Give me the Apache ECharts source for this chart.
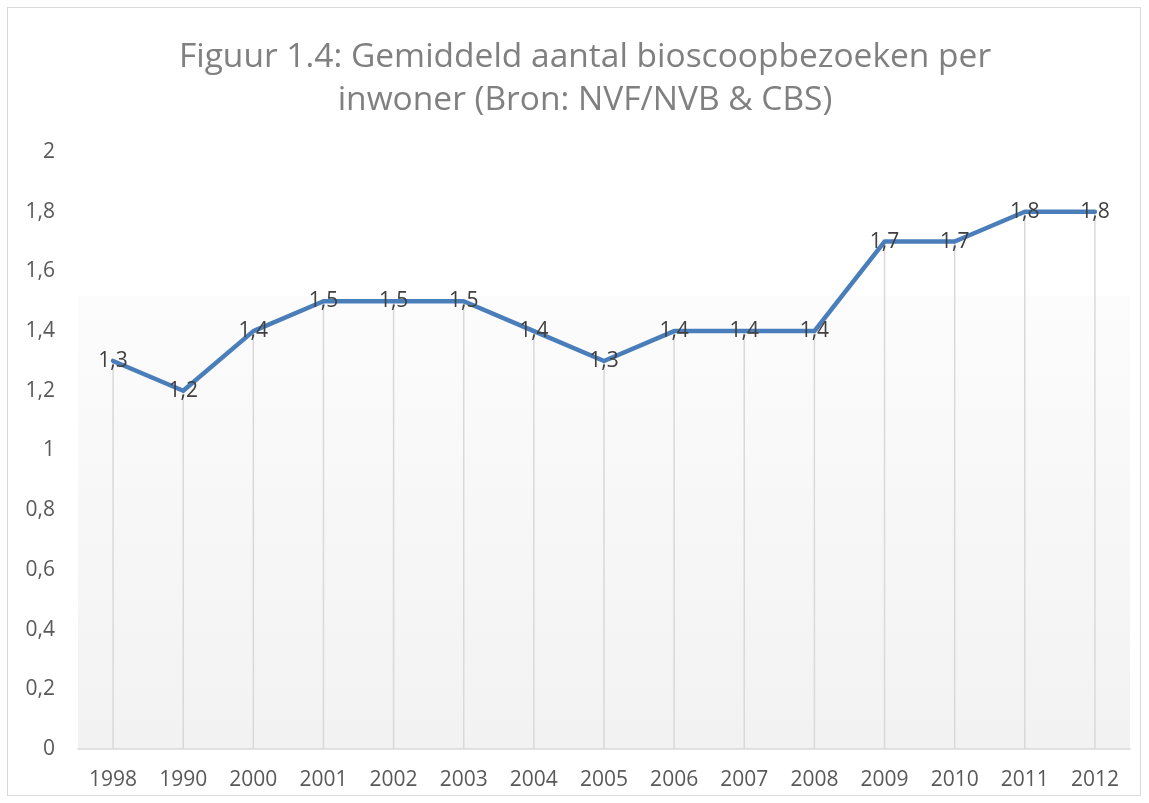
<!DOCTYPE html>
<html>
<head>
<meta charset="utf-8">
<script src="https://cdn.jsdelivr.net/npm/echarts@6/dist/echarts.min.js"></script>
<style>
html,body{margin:0;padding:0;background:#fff;}
#frame{position:absolute;left:7px;top:7px;width:1134px;height:789px;border:1px solid #d9d9d9;box-sizing:border-box;}
#chart{position:absolute;left:0;top:0;width:1149px;height:803px;}
</style>
</head>
<body>
<div id="frame"></div>
<div id="chart"></div>
<script>
const titleLines = ['Figuur 1.4: Gemiddeld aantal bioscoopbezoeken per', 'inwoner (Bron: NVF/NVB & CBS)'];
const categories = ['1998','1990','2000','2001','2002','2003','2004','2005','2006','2007','2008','2009','2010','2011','2012'];
const values = [1.3,1.2,1.4,1.5,1.5,1.5,1.4,1.3,1.4,1.4,1.4,1.7,1.7,1.8,1.8];
const yTicks = {min:0, max:2, interval:0.2};

const fmt = v => String(+Number(v).toFixed(1)).replace('.', ',');
const FONT = 'Open Sans';

const chart = echarts.init(document.getElementById('chart'), null, {renderer:'canvas'});
chart.setOption({
  animation:false,
  title:{
    text: titleLines.join('\n'),
    left: 580, top: 31, textAlign:'center',
    textStyle:{fontFamily:FONT, fontSize:33.5, fontWeight:'normal', color:'#808080', lineHeight:43}
  },
  grid:{left:78, right:19, top:152, bottom:54, show:true, borderWidth:0,
    backgroundColor:{type:'linear', x:0, y:0, x2:0, y2:1, colorStops:[
      {offset:0, color:'#ffffff'},{offset:0.24, color:'#ffffff'},{offset:0.241, color:'#fcfcfc'},{offset:1, color:'#f2f2f2'}]}},
  xAxis:{type:'category', data:categories, boundaryGap:true,
    axisLine:{lineStyle:{color:'#d9d9d9', width:1.5}},
    axisTick:{show:false},
    axisLabel:{fontFamily:FONT, fontSize:21, color:'#595959', margin:21}},
  yAxis:{type:'value', min:yTicks.min, max:yTicks.max, interval:yTicks.interval,
    axisLine:{show:false}, axisTick:{show:false}, splitLine:{show:false},
    axisLabel:{fontFamily:FONT, fontSize:21, color:'#595959', margin:23, formatter:fmt}},
  series:[
    {type:'bar', data:values, barWidth:1.5, itemStyle:{color:'#d9d9d9'}, silent:true, z:1},
    {type:'line', data:values, showSymbol:true, symbol:'circle', symbolSize:1,
      itemStyle:{color:'rgba(0,0,0,0)'},
      lineStyle:{color:'#4a7ebb', width:4.5, cap:'round', join:'round'}, z:3,
      label:{show:true, position:'inside', offset:[0,2], fontFamily:FONT, fontSize:21, color:'#404040', formatter:p=>fmt(p.value)},
      labelLayout:{hideOverlap:false}}
  ]
});
</script>
</body>
</html>
